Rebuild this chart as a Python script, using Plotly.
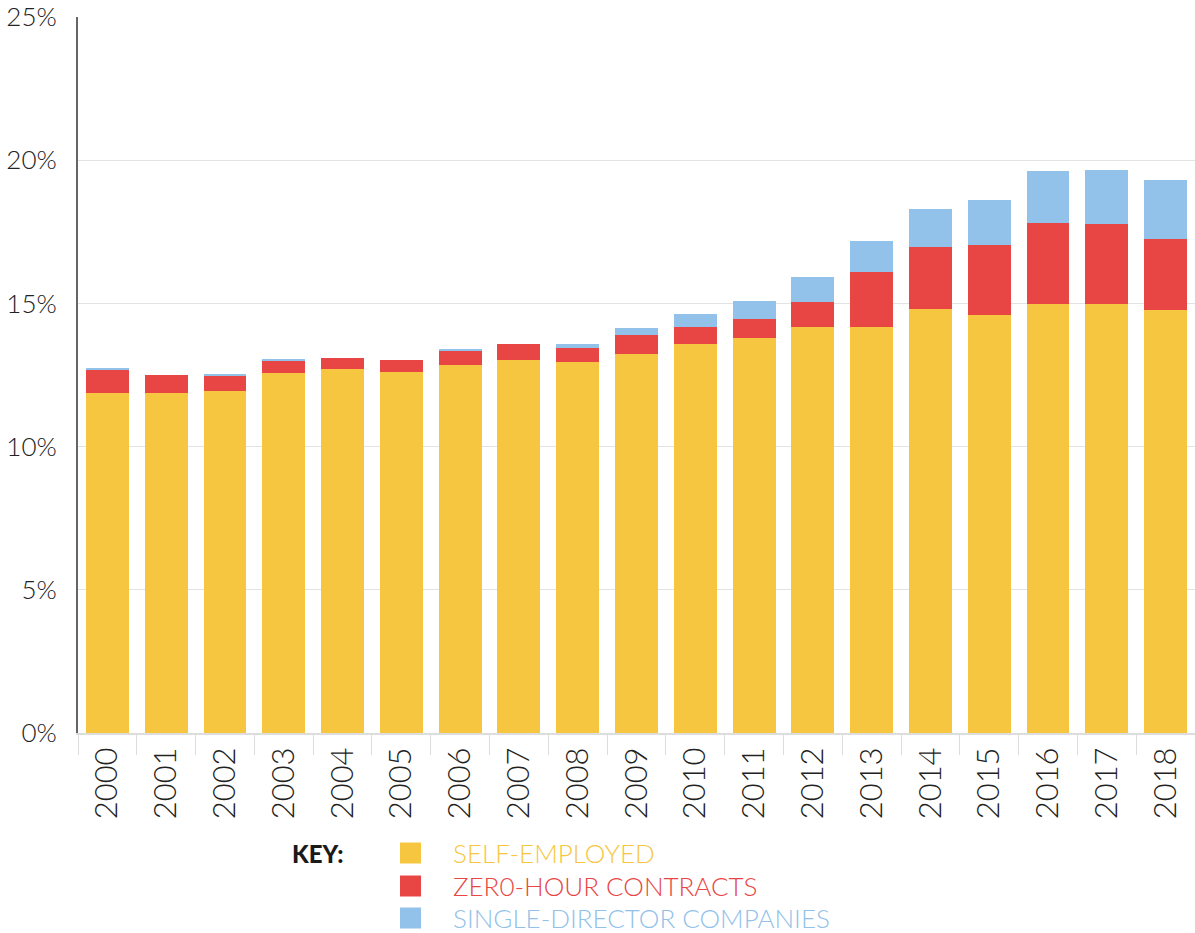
import plotly.graph_objects as go

years = [str(y) for y in range(2000, 2019)]
self_employed = [11.88, 11.88, 11.95, 12.58, 12.72, 12.61, 12.86, 13.03, 12.96, 13.24,
                 13.59, 13.80, 14.18, 14.18, 14.81, 14.60, 14.99, 14.99, 14.78]
zero_hour = [0.80, 0.63, 0.52, 0.42, 0.38, 0.42, 0.49, 0.56, 0.49, 0.66,
             0.59, 0.66, 0.88, 1.92, 2.16, 2.44, 2.82, 2.79, 2.47]
single_director = [0.05, 0.0, 0.07, 0.03, 0.0, 0.0, 0.03, 0.0, 0.14, 0.25,
                   0.46, 0.63, 0.87, 1.08, 1.33, 1.58, 1.82, 1.88, 2.06]
y_ticks = [0, 5, 10, 15, 20, 25]
y_tick_labels = ["0%", "5%", "10%", "15%", "20%", "25%"]
series_names = ["SELF-EMPLOYED", "ZER0-HOUR CONTRACTS", "SINGLE-DIRECTOR COMPANIES"]
colors = ["#F7C640", "#E84644", "#92C1E9"]

FONT = "Lato"
W, H = 1195, 933
L, R, T, B = 78, 0, 17, 200

fig = go.Figure()
for name, vals, c in zip(series_names, [self_employed, zero_hour, single_director], colors):
    fig.add_trace(go.Bar(x=years, y=vals, name=name, marker=dict(color=c, line=dict(width=0)),
                         showlegend=False))

fig.update_layout(
    width=W, height=H, barmode="stack", bargap=0.27,
    margin=dict(l=L, r=R, t=T, b=B),
    paper_bgcolor="white", plot_bgcolor="white",
    font=dict(family=FONT, size=24, color="#222", weight=300),
)
fig.update_yaxes(range=[0, 25], tickmode="array", tickvals=y_ticks, ticktext=y_tick_labels,
                 showgrid=True, gridcolor="#e3e3e3", gridwidth=1,
                 showline=True, linecolor="#666", linewidth=2,
                 zeroline=False, ticks="", ticklabelstandoff=14,
                 tickfont=dict(family=FONT, size=26, color="#222", weight=300))
fig.update_xaxes(type="category", tickangle=-90, tickson="boundaries",
                 ticks="outside", ticklen=20, tickcolor="#dddddd", tickwidth=1,
                 showline=True, linecolor="#dddddd", linewidth=2,
                 showgrid=False, zeroline=False,
                 tickfont=dict(family=FONT, size=31, color="#222", weight=300))

pw, ph = W - L - R, H - T - B
def px(x):
    return (x - L) / pw
def py(y):
    return (H - B - y) / ph

fig.add_annotation(x=px(346), y=py(853), xref="paper", yref="paper", text="KEY:",
                   showarrow=False, xanchor="right", yanchor="middle",
                   font=dict(family=FONT, size=24, color="#1a1a1a", weight=900))
rows = [853, 886, 918]
for name, c, ry in zip(series_names, colors, rows):
    fig.add_shape(type="rect", xref="paper", yref="paper",
                  x0=px(400), x1=px(421), y0=py(ry - 10.5), y1=py(ry + 10.5),
                  fillcolor=c, line=dict(width=0))
    fig.add_annotation(x=px(451), y=py(ry), xref="paper", yref="paper", text=name,
                       showarrow=False, xanchor="left", yanchor="middle",
                       font=dict(family=FONT, size=26, color=c, weight=300))

fig.write_html("out.html")
